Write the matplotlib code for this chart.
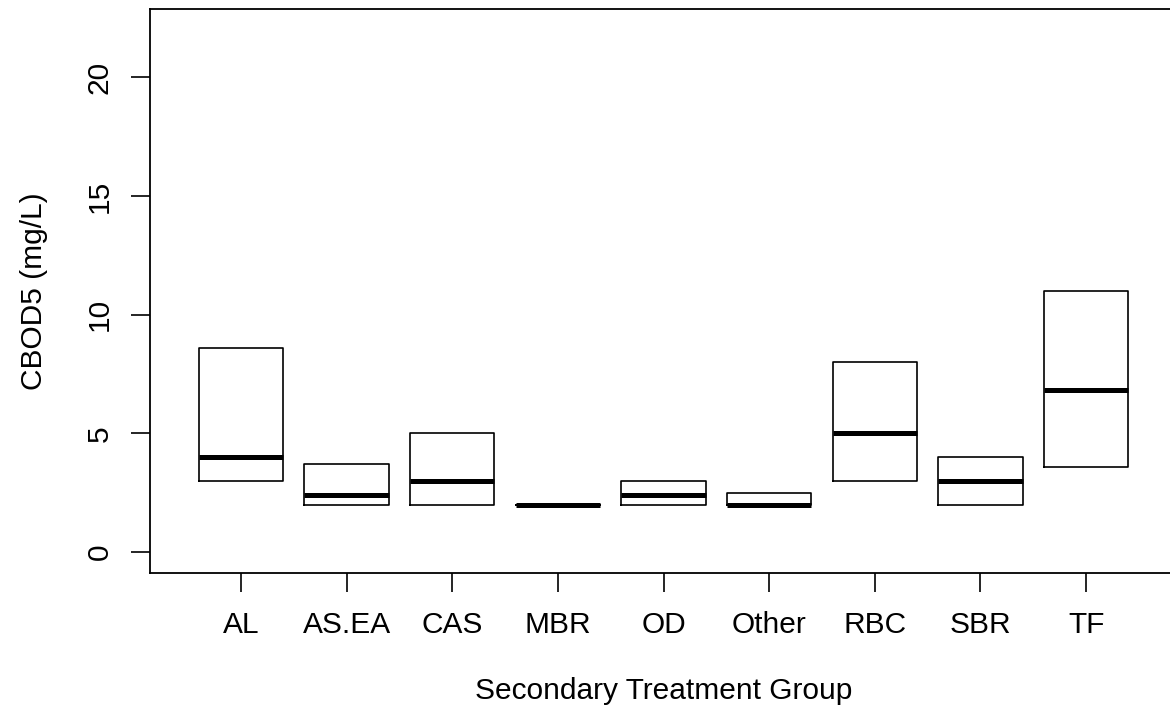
import matplotlib
matplotlib.use("Agg")
import matplotlib.pyplot as plt

plt.rcParams['font.family'] = ['Liberation Sans', 'DejaVu Sans']

# data (box = q1..q3, thick line = median)
groups = ["AL", "AS.EA", "CAS", "MBR", "OD", "Other", "RBC", "SBR", "TF"]
q1 = [3.0, 2.0, 2.0, 2.0, 2.0, 2.0, 3.0, 2.0, 3.6]
med = [4.0, 2.4, 3.0, 2.0, 2.4, 2.0, 5.0, 3.0, 6.85]
q3 = [8.6, 3.7, 5.0, 2.0, 3.0, 2.5, 8.0, 4.0, 11.0]
y_ticks = [0, 5, 10, 15, 20]

stats = []
for name, lo, m, hi in zip(groups, q1, med, q3):
    stats.append({"label": name, "q1": lo, "med": m, "q3": hi,
                  "whislo": lo, "whishi": hi, "fliers": []})

fig = plt.figure(figsize=(11.7, 7.17), dpi=100)
ax = fig.add_axes([150 / 1170, 144 / 717, 1027 / 1170, 564 / 717])

positions = list(range(1, len(groups) + 1))
ax.bxp(stats, positions=positions, widths=0.8, showcaps=False,
       showfliers=False,
       boxprops=dict(color="black", linewidth=1.2),
       whiskerprops=dict(linewidth=0),
       medianprops=dict(color="black", linewidth=3.6))

ax.set_xlim(0.14, 9.86)
ax.set_ylim(-0.88, 22.88)

fs = 21.5
ax.set_xticks(positions)
ax.set_xticklabels(groups, fontsize=fs)
ax.set_yticks(y_ticks)
ax.set_yticklabels([str(v) for v in y_ticks], fontsize=fs,
                   rotation=90, va="center")
ax.tick_params(axis="both", length=13.7, width=1.2, color="black")
ax.tick_params(axis="x", pad=14)
ax.tick_params(axis="y", pad=12.5)

for s in ax.spines.values():
    s.set_linewidth(1.3)

ax.set_xlabel("Secondary Treatment Group", fontsize=fs, labelpad=27)
ax.set_ylabel("CBOD5 (mg/L)", fontsize=fs, labelpad=27)

fig.savefig("out.png", dpi=100)
